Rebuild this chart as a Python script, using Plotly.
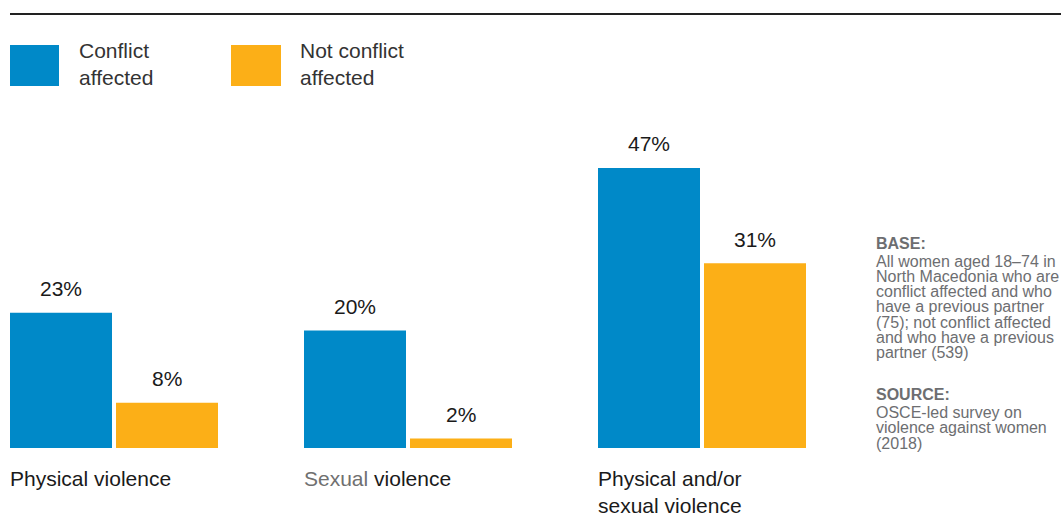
import plotly.graph_objects as go

categories = ["Physical violence", "Sexual violence", "Physical and/or<br>sexual violence"]
series_names = ["Conflict affected", "Not conflict affected"]
conflict = [22.7, 19.7, 47]
not_conflict = [7.6, 1.6, 31]
labels_conflict = ["23%", "20%", "47%"]
labels_not = ["8%", "2%", "31%"]

BLUE = "#0089C8"
ORANGE = "#FCAF17"
GREY = "#6D6E71"
FONT = "Arial, Liberation Sans, sans-serif"

W_PAGE, H_PAGE = 1061, 532
L, R, T, B = 10, 255, 100, 84
PW = W_PAGE - L - R
PH = H_PAGE - T - B
PX_PER_PCT = 5.96

def px2x(px):
    return (px - L) / PW

def py2y(py):
    return 1 - (py - T) / PH

xs = list(range(len(categories)))
bw = 102 / 294
off_b = -104 / 294
off_o = off_b + 106 / 294

fig = go.Figure()
fig.add_trace(go.Bar(x=xs, y=conflict, name=series_names[0], marker_color=BLUE,
                     width=[bw] * 3, offset=[off_b] * 3, marker_line_width=0))
fig.add_trace(go.Bar(x=xs, y=not_conflict, name=series_names[1], marker_color=ORANGE,
                     width=[bw] * 3, offset=[off_o] * 3, marker_line_width=0))

ann = []
for i in xs:
    ann.append(dict(x=i + off_b + bw / 2, y=conflict[i], xref="x", yref="y", text=labels_conflict[i],
                    showarrow=False, yanchor="middle", yshift=24, font=dict(size=21, color="#1a1a1a", family=FONT)))
    ann.append(dict(x=i + off_o + bw / 2, y=not_conflict[i], xref="x", yref="y", text=labels_not[i],
                    showarrow=False, yanchor="middle", yshift=24, font=dict(size=21, color="#1a1a1a", family=FONT)))

cat_text = [categories[0],
            "<span style='color:%s'>Sexual</span> violence" % "#707070",
            categories[2]]
for i in xs:
    ann.append(dict(x=i + off_b, y=py2y(465), xref="x", yref="paper", text=cat_text[i],
                    showarrow=False, xanchor="left", yanchor="top", align="left", xshift=-2,
                    font=dict(size=21, color="#1a1a1a", family=FONT)))

# legend
shapes = [
    dict(type="line", xref="paper", yref="paper", x0=px2x(10), x1=px2x(1061), y0=py2y(14), y1=py2y(14),
         line=dict(color="#222222", width=2)),
    dict(type="rect", xref="paper", yref="paper", x0=px2x(10), x1=px2x(59), y0=py2y(45), y1=py2y(86),
         fillcolor=BLUE, line=dict(width=0)),
    dict(type="rect", xref="paper", yref="paper", x0=px2x(231), x1=px2x(281), y0=py2y(45), y1=py2y(86),
         fillcolor=ORANGE, line=dict(width=0)),
]
ann.append(dict(x=px2x(77), y=py2y(64), xref="paper", yref="paper", text="Conflict<br>affected",
                showarrow=False, xanchor="left", yanchor="middle", align="left",
                font=dict(size=21, color="#333333", family=FONT)))
ann.append(dict(x=px2x(298), y=py2y(64), xref="paper", yref="paper", text="Not conflict<br>affected",
                showarrow=False, xanchor="left", yanchor="middle", align="left",
                font=dict(size=21, color="#333333", family=FONT)))

# side notes
base_lines = ["All women aged 18\u201374 in", "North Macedonia who are", "conflict affected and who",
              "have a previous partner", "(75); not conflict affected", "and who have a previous",
              "partner (539)"]
source_lines = ["OSCE-led survey on", "violence against women", "(2018)"]
side = [("<b>BASE:</b>", 243)] + [(t, 261 + 15.3 * k) for k, t in enumerate(base_lines)] + \
       [("<b>SOURCE:</b>", 394)] + [(t, 412 + 15.5 * k) for k, t in enumerate(source_lines)]
for t, py in side:
    ann.append(dict(x=px2x(874), y=py2y(py), xref="paper", yref="paper", text=t, showarrow=False,
                    xanchor="left", yanchor="middle", align="left",
                    font=dict(size=16, color=GREY, family=FONT)))

x0 = off_b
x1 = 2 + off_o + bw
fig.update_layout(
    width=W_PAGE, height=H_PAGE,
    margin=dict(l=L, r=R, t=T, b=B),
    paper_bgcolor="white", plot_bgcolor="white",
    showlegend=False,
    xaxis=dict(range=[x0, x1], visible=False, fixedrange=True),
    yaxis=dict(range=[0, PH / PX_PER_PCT], visible=False, fixedrange=True),
    annotations=ann, shapes=shapes,
    font=dict(family=FONT),
)
fig.write_html("out.html", config={"displayModeBar": False},
               post_script="document.body.style.margin='0';")
